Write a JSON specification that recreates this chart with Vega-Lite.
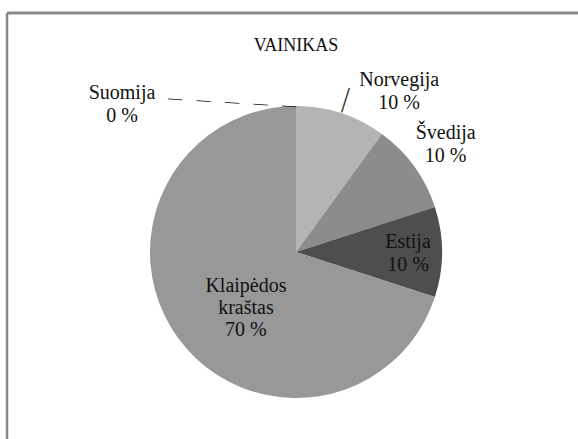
{
  "$schema": "https://vega.github.io/schema/vega-lite/v6.json",
  "width": 578,
  "height": 478,
  "autosize": {"type": "none"},
  "padding": {"left": 7, "top": 13, "right": -7, "bottom": -52},
  "background": "white",
  "config": {
    "view": {"stroke": null},
    "text": {"font": "Liberation Serif"}
  },
  "title": {
    "text": "VAINIKAS",
    "font": "Liberation Serif",
    "fontSize": 18,
    "fontWeight": "normal",
    "color": "#111111",
    "anchor": "middle",
    "frame": "group",
    "baseline": "alphabetic",
    "offset": -57
  },
  "data": {
    "values": [
      {"name": "Suomija", "label": "Suomija\n0 %", "value": 0, "rank": 1},
      {"name": "Norvegija", "label": "Norvegija\n10 %", "value": 10, "rank": 2},
      {"name": "Švedija", "label": "Švedija\n10 %", "value": 10, "rank": 3},
      {"name": "Estija", "label": "Estija\n10 %", "value": 10, "rank": 4},
      {"name": "Klaipėdos kraštas", "label": "Klaipėdos\nkraštas\n70 %", "value": 70, "rank": 5}
    ]
  },
  "layer": [
    {
      "data": {"values": [{"edge": "top"}]},
      "mark": {"type": "rule", "stroke": "#888888", "strokeWidth": 3, "x2Offset": 20},
      "encoding": {
        "x": {"value": 0},
        "x2": {"value": "width"},
        "y": {"value": 0}
      }
    },
    {
      "data": {"values": [{"edge": "left"}]},
      "mark": {"type": "rule", "stroke": "#888888", "strokeWidth": 2.5},
      "encoding": {
        "x": {"value": 0},
        "y": {"value": 0},
        "y2": {"value": "height"}
      }
    },
    {
      "encoding": {
        "theta": {"field": "value", "type": "quantitative", "stack": true},
        "order": {"field": "rank", "type": "quantitative"}
      },
      "layer": [
        {
          "mark": {"type": "arc", "outerRadius": 146},
          "encoding": {
            "color": {
              "field": "name",
              "type": "nominal",
              "scale": {
                "domain": ["Suomija", "Norvegija", "Švedija", "Estija", "Klaipėdos kraštas"],
                "range": ["#6e6e6e", "#b4b4b4", "#8c8c8c", "#4e4e4e", "#989898"]
              },
              "legend": null
            }
          }
        },
        {
          "mark": {"type": "text", "radius": 161, "angle": 17.5, "fontSize": 28, "align": "center", "baseline": "middle", "color": "#333333"},
          "encoding": {
            "text": {"condition": {"test": "datum.name === 'Norvegija'", "value": "|"}, "value": ""}
          }
        },
        {
          "mark": {"type": "text", "radius": 146, "dx": -64, "angle": 3.5, "fontSize": 14.3, "align": "center", "baseline": "middle", "color": "#111111"},
          "encoding": {
            "text": {"condition": {"test": "datum.name === 'Suomija'", "value": "—\u2003—\u2003—\u2003—\u2003—"}, "value": ""}
          }
        },
        {
          "mark": {"type": "text", "radius": 148, "dx": -174, "dy": -11, "fontSize": 20, "lineHeight": 23, "lineBreak": "\n", "align": "center", "baseline": "middle", "color": "#111111"},
          "encoding": {
            "text": {"condition": {"test": "datum.name === 'Suomija'", "field": "label"}, "value": ""}
          }
        },
        {
          "mark": {"type": "text", "radius": 185, "dx": 46, "dy": 4, "fontSize": 20, "lineHeight": 23, "lineBreak": "\n", "align": "center", "baseline": "middle", "color": "#111111"},
          "encoding": {
            "text": {"condition": {"test": "datum.name === 'Norvegija'", "field": "label"}, "value": ""}
          }
        },
        {
          "mark": {"type": "text", "radius": 185, "dy": -10, "fontSize": 20, "lineHeight": 23, "lineBreak": "\n", "align": "center", "baseline": "middle", "color": "#111111"},
          "encoding": {
            "text": {"condition": {"test": "datum.name === 'Švedija'", "field": "label"}, "value": ""}
          }
        },
        {
          "mark": {"type": "text", "radius": 112, "dy": -10, "fontSize": 20, "lineHeight": 23, "lineBreak": "\n", "align": "center", "baseline": "middle", "color": "#111111"},
          "encoding": {
            "text": {"condition": {"test": "datum.name === 'Estija'", "field": "label"}, "value": ""}
          }
        },
        {
          "mark": {"type": "text", "radius": 73, "dx": 9, "dy": -9, "fontSize": 20, "lineHeight": 22, "lineBreak": "\n", "align": "center", "baseline": "middle", "color": "#111111"},
          "encoding": {
            "text": {"condition": {"test": "datum.name === 'Klaipėdos kraštas'", "field": "label"}, "value": ""}
          }
        }
      ]
    }
  ]
}
